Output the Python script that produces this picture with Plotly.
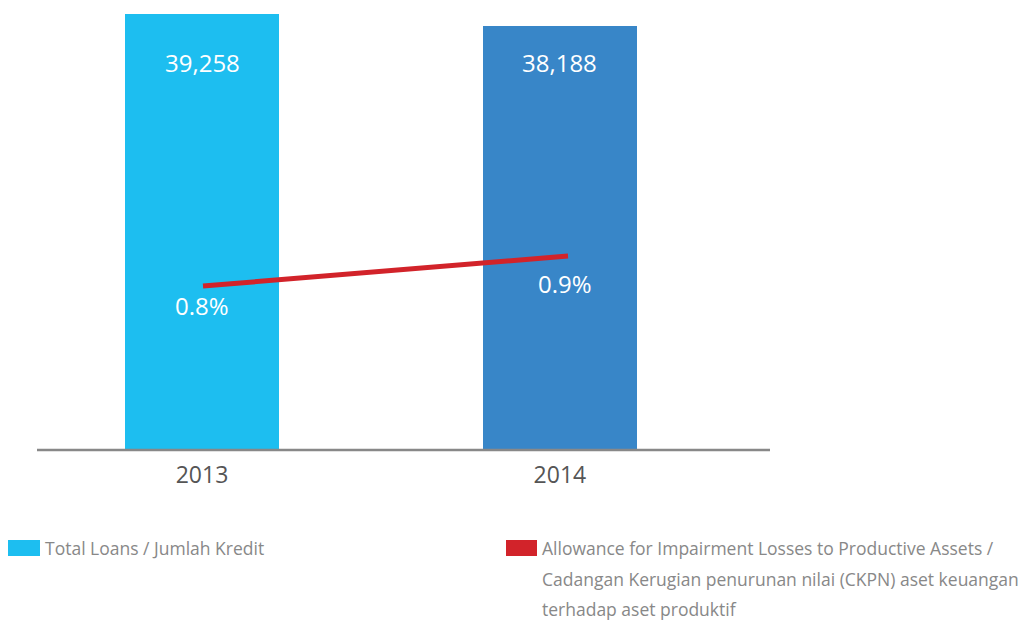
import plotly.graph_objects as go

years = ["2013", "2014"]
total_loans = [39258, 38188]
loan_labels = ["39,258", "38,188"]
ckpn_ratio = [0.8, 0.9]
ratio_labels = ["0.8%", "0.9%"]
bar_colors = ["#1DBEF0", "#3886C8"]
line_color = "#D2232A"
legend1 = ["Total Loans / Jumlah Kredit"]
legend2 = [
    "Allowance for Impairment Losses to Productive Assets /",
    "Cadangan Kerugian penurunan nilai (CKPN) aset keuangan",
    "terhadap aset produktif",
]

FONT = "Open Sans"
W, H = 1035, 621
ML, MR, MT, MB = 37, 265, 0, 171
pw, ph = W - ML - MR, H - MT - MB


def px2paper(x, y):
    return (x - ML) / pw, (H - MB - y) / ph


fig = go.Figure()
fig.add_trace(go.Bar(
    x=years, y=total_loans, marker=dict(color=bar_colors, line=dict(width=0)),
    width=0.43, showlegend=False, hoverinfo="skip"))
fig.add_trace(go.Scatter(
    x=years, y=ckpn_ratio, mode="lines", line=dict(color=line_color, width=5),
    xaxis="x2", yaxis="y2", showlegend=False, hoverinfo="skip"))

annotations = []
# category axes: annotation x given as category index
label_y = px2paper(0, 62)[1]
for i, t in enumerate(loan_labels):
    annotations.append(dict(x=i, y=label_y, xref="x", yref="paper", text=t, showarrow=False,
                            yanchor="middle", font=dict(family=FONT, size=24, color="#FFFFFF")))
shifts = [(-1, -20), (-3, -28)]
for i, (v, t, (dx, dy)) in enumerate(zip(ckpn_ratio, ratio_labels, shifts)):
    annotations.append(dict(x=i, y=v, xref="x2", yref="y2", text=t, showarrow=False,
                            xshift=dx, yshift=dy, font=dict(family=FONT, size=24, color="#FFFFFF")))

legend_font = dict(family=FONT, size=17.5, color="#888888")
for i, t in enumerate(legend1):
    px, py = px2paper(43, 548 + 32 * i)
    annotations.append(dict(x=px, y=py, xref="paper", yref="paper", text=t, showarrow=False,
                            xanchor="left", yanchor="middle", font=legend_font))
for i, t in enumerate(legend2):
    px, py = px2paper(540, 548 + 30.5 * i)
    annotations.append(dict(x=px, y=py, xref="paper", yref="paper", text=t, showarrow=False,
                            xanchor="left", yanchor="middle", font=legend_font))

shapes = []
for (x0, y0, x1, y1), c in [((8, 540, 40, 556), bar_colors[0]), ((506, 540, 537, 556), line_color)]:
    p0 = px2paper(x0, y1)
    p1 = px2paper(x1, y0)
    shapes.append(dict(type="rect", xref="paper", yref="paper", x0=p0[0], y0=p0[1],
                       x1=p1[0], y1=p1[1], fillcolor=c, line=dict(width=0)))
shapes.append(dict(type="line", xref="paper", yref="paper", x0=0, x1=1, y0=0, y1=0,
                   line=dict(color="#888888", width=2.5)))

fig.update_layout(
    width=W, height=H, margin=dict(l=ML, r=MR, t=MT, b=MB),
    paper_bgcolor="white", plot_bgcolor="white",
    xaxis=dict(type="category", range=[-0.461, 1.587], showgrid=False, zeroline=False,
               showline=False, ticks="", ticklabelstandoff=9,
               tickfont=dict(family=FONT, size=23, color="#555555")),
    xaxis2=dict(type="category", overlaying="x", range=[-0.4548, 1.5534], visible=False),
    yaxis=dict(range=[0, 40518], visible=False, showgrid=False, zeroline=False),
    yaxis2=dict(range=[0.2533, 1.7533], overlaying="y", visible=False),
    annotations=annotations, shapes=shapes,
    bargap=0,
)

fig.write_html("out.html")
